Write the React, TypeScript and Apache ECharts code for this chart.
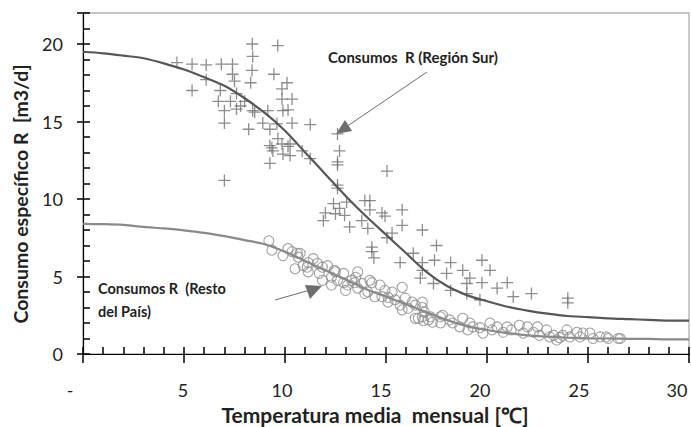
import React, { useEffect, useRef } from 'react';
import * as echarts from 'echarts';

// ---- tick labels ----
const xTickLabels = ['-', '5', '10', '15', '20', '25', '30'];
const yTickValues = [0, 5, 10, 15, 20];
const xLabelShift = [13, 1, 3, 5, 7, 9, 12];

// ---- "Región Sur" observations (+) ----
const surT = [
  4.65, 5.4, 6.1, 6.85, 7.4, 8.38, 9.64, 8.4, 8.37, 7.4, 9.45, 6.1, 8.3, 7.5, 10.1, 5.4, 9.85, 6.8, 7.6, 10.35,
  6.7, 7.3, 8.0, 9.85, 7.8, 7.0, 8.4, 9.15, 9.9, 10.15, 7.6, 7.0, 8.9, 9.6, 10.35, 11.25, 8.2, 9.25, 9.65, 9.35,
  10.15, 8.5, 9.25, 9.85, 10.25, 9.4, 9.9, 10.25, 10.85, 11.25, 9.25, 12.7, 12.6, 12.6, 12.6, 15.05, 12.6, 12.6, 13.95, 14.2,
  13.05, 12.4, 12.7, 12.0, 12.5, 12.95, 11.9, 13.8, 14.2, 14.8, 14.95, 15.8, 13.2, 14.1, 15.8, 15.3, 15.05, 14.3, 16.8, 17.5,
  16.35, 17.4, 16.8, 18.2, 15.7, 19.75, 20.15, 18.8, 16.8, 18.0, 19.15, 16.7, 17.35, 19.75, 21.0, 20.5, 18.2, 19.0, 22.2, 21.3,
  24.0, 24.0, 19.65, 7.0, 14.3, 14.4, 19.0,
];
const surV = [
  18.8, 18.7, 18.65, 18.7, 18.7, 20.0, 19.9, 19.2, 18.3, 18.05, 18.05, 17.7, 17.5, 17.6, 17.5, 17.0, 17.1, 17.0, 16.8, 16.45,
  16.3, 16.3, 16.3, 16.45, 16.0, 15.7, 15.7, 15.7, 15.7, 15.75, 15.8, 14.9, 14.9, 14.85, 14.9, 14.8, 14.5, 14.5, 13.9, 13.3,
  13.4, 15.6, 13.45, 13.55, 13.55, 13.1, 12.9, 12.8, 13.1, 12.6, 12.3, 13.1, 12.4, 12.2, 14.2, 11.8, 10.9, 10.7, 9.9, 9.9,
  9.8, 9.7, 9.4, 9.1, 9.05, 8.95, 8.6, 8.6, 9.3, 9.1, 8.9, 9.3, 8.2, 8.1, 8.3, 7.8, 7.5, 6.9, 8.0, 7.0,
  6.5, 6.05, 5.9, 5.9, 5.9, 6.05, 5.4, 5.4, 5.4, 5.2, 4.9, 4.9, 4.55, 4.6, 4.6, 4.25, 4.1, 3.9, 3.9, 3.7,
  3.6, 3.3, 3.5, 11.2, 6.6, 6.2, 4.55,
];

// ---- "Resto del País" observations (o) ----
const restoT = [
  9.2, 9.35, 10.15, 10.6, 9.9, 10.5, 11.15, 11.6, 12.1, 11.15, 11.7, 12.3, 12.9, 13.6, 12.9, 13.1, 13.0, 14.3, 14.7, 13.6,
  13.95, 14.45, 15.3, 15.8, 15.45, 15.95, 15.1, 16.1, 16.8, 16.9, 16.6, 17.1, 12.3, 11.85, 10.9, 12.5, 13.5, 14.1, 14.8, 15.7,
  16.3, 10.35, 10.75, 14.2, 16.8, 16.45, 17.8, 16.85, 17.3, 17.7, 18.3, 18.65, 19.15, 19.05, 19.65, 20.15, 20.25, 20.8, 21.2, 21.6,
  21.8, 22.3, 22.6, 22.95, 23.3, 23.45, 23.95, 24.1, 24.6, 24.75, 25.25, 25.6, 25.9, 26.5, 17.2, 19.8, 20.5, 22.0, 18.8, 23.6,
  25.1, 10.65, 11.4, 12.6, 13.3, 13.8, 14.95, 15.1, 16.45, 15.8, 16.8, 13.45, 12.45, 11.85, 11.1, 17.7, 18.15, 19.3, 21.0, 22.5,
  23.1, 23.75, 24.45, 26.0, 26.6,
];
const restoV = [
  7.3, 6.7, 6.8, 6.5, 6.35, 5.5, 5.9, 5.85, 5.7, 5.3, 5.2, 4.95, 5.2, 5.3, 4.6, 4.45, 4.1, 4.6, 4.45, 4.25,
  3.9, 3.7, 4.0, 4.3, 3.5, 3.6, 3.35, 2.95, 3.35, 2.7, 2.3, 2.2, 4.45, 4.75, 5.7, 5.3, 4.95, 4.0, 3.7, 3.15,
  3.35, 6.6, 6.5, 4.75, 3.0, 2.3, 2.5, 2.15, 2.05, 2.0, 2.0, 1.75, 2.0, 1.55, 1.7, 2.0, 1.55, 1.4, 1.55, 1.85,
  1.35, 1.4, 1.2, 1.55, 1.2, 0.9, 1.55, 1.1, 1.1, 1.35, 1.0, 1.1, 1.1, 1.0, 2.4, 1.35, 1.75, 1.75, 2.3, 1.05,
  1.35, 6.25, 6.15, 4.75, 4.75, 4.55, 4.1, 3.65, 3.15, 2.85, 2.4, 4.6, 5.4, 5.6, 5.6, 2.4, 2.2, 1.75, 1.75, 1.75,
  1.1, 1.2, 1.4, 1.0, 1.0,
];

// ---- fitted curves ----
const curveT = [0, 1, 2, 3, 4, 5, 6, 7, 8, 9, 10, 11, 12, 13, 14, 15, 16, 17, 18, 19, 20, 21, 22, 23, 24, 25, 26, 27, 28, 29, 30];
const surFit = [19.5, 19.4, 19.25, 19.08, 18.75, 18.35, 17.85, 17.3, 16.5, 15.55, 14.4, 13.0, 11.6, 10.2, 8.9, 7.7, 6.5, 5.3, 4.4, 3.8, 3.4, 3.05, 2.8, 2.6, 2.45, 2.38, 2.3, 2.25, 2.2, 2.15, 2.15];
const restoFit = [8.4, 8.38, 8.33, 8.2, 8.1, 7.98, 7.82, 7.6, 7.35, 7.08, 6.6, 6.0, 5.4, 4.8, 4.2, 3.7, 3.2, 2.7, 2.2, 1.8, 1.55, 1.35, 1.2, 1.12, 1.05, 1.0, 1.0, 0.98, 0.97, 0.95, 0.95];

const FONT = 'Lato, "Open Sans", sans-serif';
const TICK = '#000';

export default function App() {
  const ref = useRef<HTMLDivElement>(null);
  useEffect(() => {
    const chart = echarts.init(ref.current!, null, { renderer: 'svg' });
    const rich: Record<string, any> = {};
    xLabelShift.forEach((s, i) => {
      rich['s' + i] = { fontFamily: FONT, fontSize: 18, color: '#222', padding: [0, s * 2, 0, 0] };
    });
    const option: any = {
      animation: false,
      backgroundColor: '#fff',
      grid: { left: 83, top: 13, right: 2, bottom: 73, show: true, borderColor: '#b0b0b0', borderWidth: 1.3 },
      xAxis: [
        {
          type: 'value', min: 0, max: 30, interval: 5, position: 'bottom',
          axisLine: { show: true, onZero: false, lineStyle: { color: TICK, width: 1.2 } },
          axisTick: { show: true, inside: false, length: 9, lineStyle: { color: TICK, width: 1.5 } },
          splitLine: { show: false },
          axisLabel: {
            margin: 27, fontSize: 18, color: '#222', fontFamily: FONT,
            formatter: (v: number) => { const i = Math.round(v / 5); return `{s${i}|${xTickLabels[i]}}`; },
            rich,
          },
        },
        {
          type: 'value', min: 0, max: 30, interval: 1, position: 'bottom',
          axisLine: { show: true, onZero: false, lineStyle: { opacity: 0 } },
          axisLabel: { show: false }, splitLine: { show: false },
          axisTick: { show: true, inside: true, length: 7, lineStyle: { color: TICK, width: 1.5 } },
        },
      ],
      yAxis: [
        {
          type: 'value', min: 0, max: 22, interval: 5, position: 'left',
          axisLine: { show: true, onZero: false, lineStyle: { color: TICK, width: 1.2 } },
          axisTick: { show: true, inside: false, length: 6, lineStyle: { color: TICK, width: 1.5 } },
          splitLine: { show: false },
          axisLabel: {
            margin: 20, fontSize: 18, color: '#222', fontFamily: FONT,
            formatter: (v: number) => (yTickValues.indexOf(v) >= 0 ? String(v) : ''),
          },
        },
        {
          type: 'value', min: 0, max: 22, interval: 1, position: 'left',
          axisLine: { show: true, onZero: false, lineStyle: { opacity: 0 } },
          axisLabel: { show: false }, splitLine: { show: false },
          axisTick: { show: true, inside: true, length: 7, lineStyle: { color: TICK, width: 1.5 } },
        },
      ],
      series: [
        {
          type: 'scatter', name: 'Región Sur',
          data: surT.map((t, i) => [t, surV[i]]),
          symbol: 'path://M6,0L6,12M0,6L12,6', symbolSize: 12,
          itemStyle: { color: 'rgba(0,0,0,0)', borderColor: '#727272', borderWidth: 1.3 },
        },
        {
          type: 'scatter', name: 'Resto del País',
          data: restoT.map((t, i) => [t, restoV[i]]),
          symbol: 'circle', symbolSize: 10,
          itemStyle: { color: 'rgba(0,0,0,0)', borderColor: '#8c8c8c', borderWidth: 1.1 },
        },
        {
          type: 'line', showSymbol: false, smooth: 0.3,
          data: curveT.map((t, i) => [t, surFit[i]]),
          lineStyle: { color: '#575757', width: 2.2 },
        },
        {
          type: 'line', showSymbol: false, smooth: 0.3,
          data: curveT.map((t, i) => [t, restoFit[i]]),
          lineStyle: { color: '#8a8a8a', width: 2.2 },
        },
        { type: 'scatter', xAxisIndex: 1, yAxisIndex: 1, data: [], silent: true },
      ],
      graphic: [
        {
          type: 'text', x: 375, y: 414,
          style: { text: 'Temperatura media  mensual [℃]', fontFamily: FONT, fontWeight: 'bold', fontSize: 21, fill: '#222', align: 'center', verticalAlign: 'middle' },
        },
        {
          type: 'text', x: 20, y: 194, rotation: Math.PI / 2,
          style: { text: 'Consumo específico R  [m3/d]', fontFamily: FONT, fontWeight: 'bold', fontSize: 19.5, fill: '#222', align: 'center', verticalAlign: 'middle' },
        },
        {
          type: 'text', x: 328, y: 57,
          style: { text: 'Consumos  R (Región Sur)', fontFamily: FONT, fontWeight: 'bold', fontSize: 15, fill: '#222', align: 'left', verticalAlign: 'middle' },
        },
        {
          type: 'text', x: 98, y: 288,
          style: { text: 'Consumos R  (Resto', fontFamily: FONT, fontWeight: 'bold', fontSize: 14.5, fill: '#222', align: 'left', verticalAlign: 'middle' },
        },
        {
          type: 'text', x: 98, y: 311,
          style: { text: 'del País)', fontFamily: FONT, fontWeight: 'bold', fontSize: 14.5, fill: '#222', align: 'left', verticalAlign: 'middle' },
        },
        { type: 'line', shape: { x1: 427, y1: 72, x2: 346, y2: 127 }, style: { stroke: '#6e6e6e', lineWidth: 1 } },
        { type: 'polygon', shape: { points: [[336, 134], [352, 131], [345, 120]] }, style: { fill: '#6e6e6e' } },
        { type: 'line', shape: { x1: 275, y1: 300, x2: 310, y2: 290 }, style: { stroke: '#6e6e6e', lineWidth: 1 } },
        { type: 'polygon', shape: { points: [[322, 286], [310, 299], [305, 285]] }, style: { fill: '#6e6e6e' } },
      ],
    };
    chart.setOption(option);
    return () => chart.dispose();
  }, []);
  return <div ref={ref} style={{ position: 'fixed', left: 0, top: 0, width: 691, height: 427, background: '#fff' }} />;
}
